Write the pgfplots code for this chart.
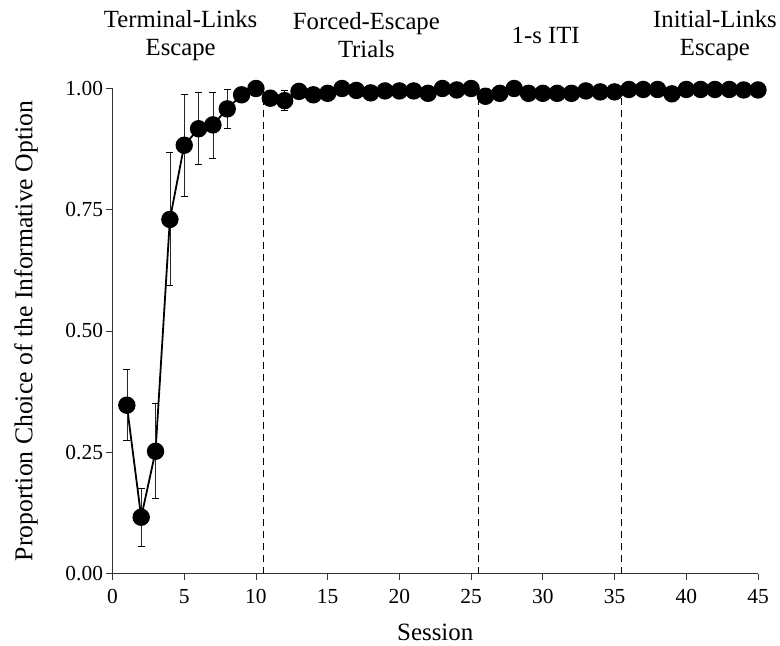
\documentclass[border=0pt]{standalone}
\usepackage{fontspec}
\setmainfont{Liberation Serif}
\usepackage{pgfplots}
\usepackage{pgfplotstable}
\pgfplotsset{compat=1.18}
\usetikzlibrary{calc}

\pgfplotstableread{
x y ep em
1 0.347 0.073 0.073
2 0.116 0.059 0.060
3 0.252 0.099 0.097
4 0.730 0.139 0.135
5 0.883 0.106 0.105
6 0.917 0.075 0.073
7 0.925 0.067 0.068
8 0.958 0.040 0.040
9 0.987 0.010 0.010
10 1.000 0.000 0.000
}\phaseA

\pgfplotstableread{
x y ep em
11 0.980 0.005 0.005
12 0.975 0.021 0.020
13 0.994 0 0
14 0.987 0 0
15 0.990 0 0
16 1.000 0 0
17 0.996 0 0
18 0.991 0 0
19 0.995 0 0
20 0.995 0 0
21 0.995 0 0
22 0.990 0 0
23 1.000 0 0
24 0.997 0 0
25 1.000 0 0
}\phaseB

\pgfplotstableread{
x y
26 0.984
27 0.990
28 1.000
29 0.990
30 0.990
31 0.990
32 0.990
33 0.995
34 0.993
35 0.993
}\phaseC

\pgfplotstableread{
x y
36 0.998
37 0.998
38 0.998
39 0.989
40 0.998
41 0.998
42 0.998
43 0.998
44 0.997
45 0.997
}\phaseD

\begin{document}
\begin{tikzpicture}
\begin{axis}[
  scale only axis,
  width=645.5bp, height=485bp,
  xmin=0, xmax=45, ymin=0, ymax=1,
  axis x line*=bottom, axis y line*=left,
  axis line style={line width=0.8bp, black!80},
  xtick={0,5,...,45},
  ytick={0,0.25,0.5,0.75,1},
  tick align=outside,
  major tick length=6bp,
  tick style={line width=0.8bp, black!80},
  /pgf/number format/assume math mode=true,
  y tick label style={/pgf/number format/fixed, /pgf/number format/fixed zerofill, /pgf/number format/precision=2},
  x tick label style={yshift=-6bp},
  tick label style={font=\fontsize{21.5}{26}\selectfont},
  xlabel={Session},
  ylabel={Proportion Choice of the Informative Option},
  every axis x label/.style={at={(axis description cs:0.5,0)}, anchor=base, yshift=-66.5bp, font=\fontsize{25}{29}\selectfont},
  every axis y label/.style={at={(axis description cs:0,0.5)}, rotate=90, anchor=center, yshift=86.5bp, font=\fontsize{25.8}{29}\selectfont},
  clip=false,
  mymark/.style={mark=*, mark size=7.8bp, mark options={solid, fill=black, draw=black}},
  myerr/.style={error bars/.cd, y dir=both, y explicit, error bar style={line width=0.6bp, black!85}, error mark options={rotate=90, line width=0.6bp, black, mark size=3.5bp}},
]
\addplot[black, dash pattern=on 7bp off 5bp, line width=1bp] coordinates {(10.5,0) (10.5,1)};
\addplot[black, dash pattern=on 7bp off 5bp, line width=1bp] coordinates {(25.5,0) (25.5,1)};
\addplot[black, dash pattern=on 7bp off 5bp, line width=1bp] coordinates {(35.5,0) (35.5,1)};

\addplot[black, line width=1.8bp, mymark, myerr] table[x=x, y=y, y error plus=ep, y error minus=em] {\phaseA};
\addplot[black, line width=1.8bp, mymark, myerr] table[x=x, y=y, y error plus=ep, y error minus=em] {\phaseB};
\addplot[black, line width=1.8bp, mymark] table[x=x, y=y] {\phaseC};
\addplot[black, line width=1.8bp, mymark] table[x=x, y=y] {\phaseD};

\node[align=center, font=\fontsize{24.8}{28}\selectfont] at (axis cs:4.75,1.11) {Terminal-Links\\Escape};
\node[align=center, font=\fontsize{24.8}{28}\selectfont] at (axis cs:17.7,1.11) {Forced-Escape\\Trials};
\node[align=center, font=\fontsize{24.8}{28}\selectfont] at (axis cs:30.2,1.11) {1-s ITI};
\node[align=center, font=\fontsize{24.8}{28}\selectfont] at (axis cs:42.0,1.11) {Initial-Links\\Escape};

\coordinate (SW) at (rel axis cs:0,0);
\coordinate (NE) at (rel axis cs:1,1);
\end{axis}
\pgfresetboundingbox
\path ($(SW)+(-112.5bp,-72.5bp)$) rectangle ($(NE)+(22bp,88.5bp)$);
\end{tikzpicture}
\end{document}
